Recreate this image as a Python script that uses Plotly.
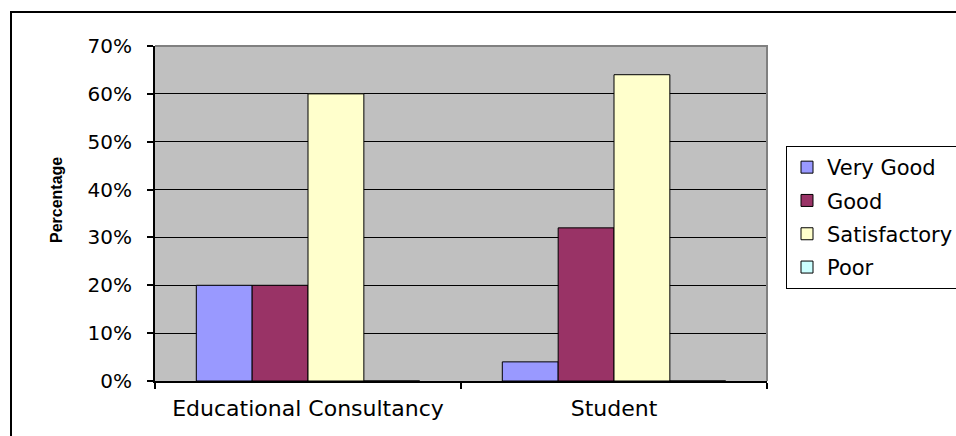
import plotly.graph_objects as go

# Survey ratings (percent of respondents)
categories = ["Educational Consultancy", "Student"]
very_good = [20, 4]
good = [20, 32]
satisfactory = [60, 64]
poor = [0, 0]
y_ticks = [0, 10, 20, 30, 40, 50, 60, 70]
y_tick_labels = [f"{v}%" for v in y_ticks]

series = [
    ("Very Good", very_good, "#9999FF"),
    ("Good", good, "#993366"),
    ("Satisfactory", satisfactory, "#FFFFCC"),
    ("Poor", poor, "#CCFFFF"),
]

W, H = 956, 436
L, R, T, B = 155, 767, 46, 381  # plot area edges in pixels
pw, ph = R - L, B - T


def px_x(x):
    return (x - L) / pw


def px_y(y):
    return (B - y) / ph


fig = go.Figure()
for name, vals, color in series:
    fig.add_trace(go.Bar(
        x=categories, y=vals, name=name, legendgroup=name,
        marker=dict(color=color, line=dict(color="black", width=1)),
    ))

tick_font = dict(family="DejaVu Sans", size=20, color="black")

fig.update_layout(
    width=W, height=H,
    margin=dict(l=L, r=W - R, t=T, b=H - B, pad=0, autoexpand=False),
    paper_bgcolor="white",
    plot_bgcolor="#C0C0C0",
    barmode="group", bargap=0.27, bargroupgap=0,
    font=dict(family="DejaVu Sans", color="black"),
    xaxis=dict(
        type="category", tickson="boundaries", ticks="outside", ticklen=6,
        tickwidth=2, tickcolor="black", showgrid=False,
        showline=True, linecolor="black", linewidth=2,
        tickfont=dict(family="DejaVu Sans", size=22, color="black"),
        ticklabelstandoff=7,
    ),
    yaxis=dict(
        range=[0, 70], tickvals=y_ticks, ticktext=y_tick_labels,
        ticks="outside", ticklen=6, tickwidth=2, tickcolor="black",
        showgrid=True, gridcolor="black", gridwidth=1,
        showline=True, linecolor="black", linewidth=2,
        zeroline=False, tickfont=tick_font, ticklabelstandoff=11,
    ),
    legend=dict(
        x=px_x(786), y=px_y(146), xanchor="left", yanchor="top",
        bordercolor="black", borderwidth=1, bgcolor="white",
        font=dict(family="DejaVu Sans", size=21, color="black"),
        traceorder="grouped", tracegroupgap=3,
    ),
    annotations=[dict(
        text="<b>Percentage</b>", textangle=-90, showarrow=False,
        xref="paper", yref="paper", x=px_x(56), y=px_y(200),
        xanchor="center", yanchor="middle",
        font=dict(family="Liberation Sans", size=16, color="black"),
    )],
    shapes=[
        # outer chart frame
        dict(type="rect", xref="paper", yref="paper", layer="above",
             x0=px_x(11), y0=px_y(470), x1=px_x(1000), y1=px_y(12),
             line=dict(color="black", width=2), fillcolor="rgba(0,0,0,0)"),
        # gray plot-area border on top and right
        dict(type="path", xref="paper", yref="paper", layer="above",
             path="M 0,1 L 1,1 L 1,0",
             line=dict(color="#808080", width=2)),
    ],
)

fig.write_html("out.html")
